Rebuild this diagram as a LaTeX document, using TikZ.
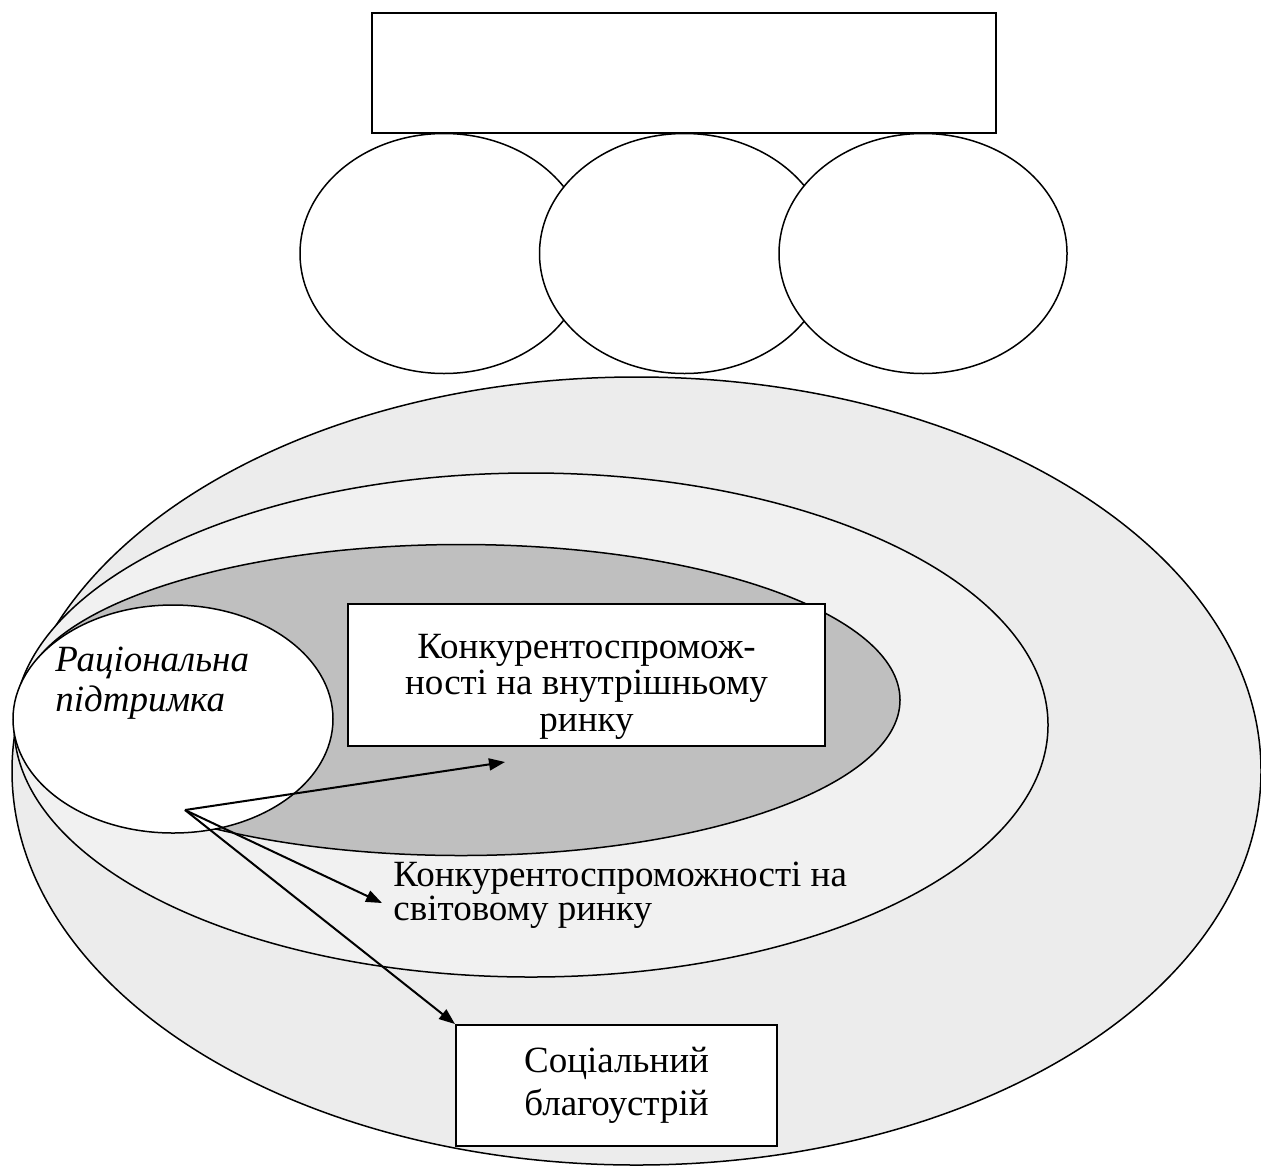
\documentclass[tikz,border=0pt]{standalone}
\usepackage{fontspec}
\setmainfont{Liberation Serif}
\usepackage{xcolor}
\usetikzlibrary{shapes.geometric,positioning,arrows.meta}
\definecolor{outergray}{gray}{0.925}
\definecolor{midgray}{gray}{0.945}
\definecolor{innergray}{gray}{0.75}
\tikzset{
    ring/.style={ellipse,draw,line width=0.75pt,inner sep=0pt},
    box/.style={rectangle,draw,fill=white,line width=1pt,inner sep=0pt},
    lbl/.style={inner sep=0pt,font=\fontsize{18.5}{#1}\selectfont},
    >={Triangle[length=8pt,width=6pt]}
}

\begin{document}
\begin{tikzpicture}[x=0.5pt,y=-0.5pt]
    \useasboundingbox (0,0) rectangle (1261,1167);
    \node[box,minimum width=312pt,minimum height=60pt] (head) at (684,72.5) {};
    \node[ring,fill=white,minimum width=144pt,minimum height=120pt] (c1) at (444,253.5) {};
    \node[ring,fill=white,minimum width=145pt,minimum height=120pt,right=-25pt of c1] (c2) {};
    \node[ring,fill=white,minimum width=144pt,minimum height=120pt,right=-26pt of c2] (c3) {};
    \node[ring,fill=outergray,minimum width=624.5pt,minimum height=394pt] (social) at (636.5,771) {};
    \node[ring,fill=midgray,minimum width=517pt,minimum height=252pt] (world) at (531,725) {};
    \node[ring,fill=innergray,minimum width=439pt,minimum height=155.5pt] (home) at (461,700) {};
    \node[ring,fill=white,minimum width=160pt,minimum height=114pt] (support) at (173,719) {};
    \node[inner sep=0pt,font=\fontsize{18.5}{20}\selectfont\itshape,align=left,anchor=north west]
        (supporttxt) at (55,647) {Раціональна\\підтримка};
    \node[box,minimum width=238.5pt,minimum height=71pt] (homebox) at (586.5,675) {};
    \node[lbl=18.3pt,align=center,anchor=north] (hometxt) at (586.5,633.5)
        {Конкурентоспромож-\\ності на внутрішньому\\ринку};
    \node[lbl=17pt,align=left,anchor=north west] (worldtxt) at (393,861.5)
        {Конкурентоспроможності на\\світовому ринку};
    \node[box,minimum width=160.5pt,minimum height=60.5pt] (socbox) at (616.5,1085.5) {};
    \node[lbl=21.5pt,align=center,anchor=north] (soctxt) at (616.5,1046.5)
        {Соціальний\\благоустрій};
    \coordinate (src) at (185,810);
    \coordinate (tiphome) at (505,762);
    \coordinate (tipworld) at (382,903);
    \draw[->,line width=1pt] (src)--(tiphome);
    \draw[->,line width=1pt] (src)--(tipworld);
    \draw[->,line width=1pt] (src)--(socbox.north west);
\end{tikzpicture}
\end{document}
